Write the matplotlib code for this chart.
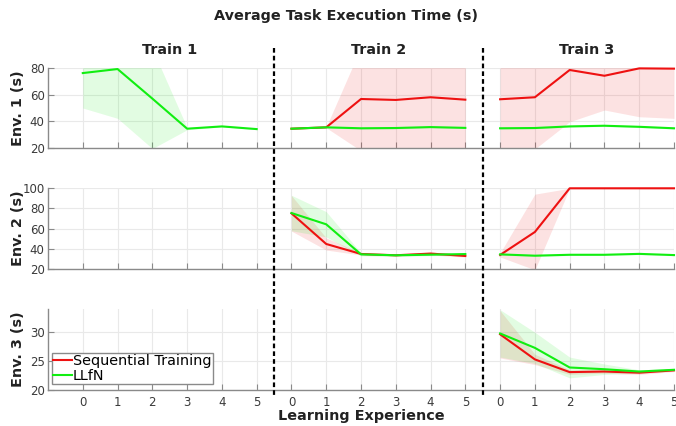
import numpy as np
import matplotlib
matplotlib.use("Agg")
import matplotlib.pyplot as plt
from matplotlib.lines import Line2D
from matplotlib.transforms import blended_transform_factory

# ---------------- data ----------------
experiences = [0, 1, 2, 3, 4, 5]
phases = ["Train 1", "Train 2", "Train 3"]
envs = ["Env. 1 (s)", "Env. 2 (s)", "Env. 3 (s)"]
methods = ["Sequential Training", "LLfN"]

# mean / std per (environment, training phase); None = not evaluated
# Env. 1
env1_seq_mean = [None,
                 [34.6, 35.6, 56.7, 56.0, 58.0, 56.2],
                 [56.5, 58.0, 78.3, 74.0, 79.5, 79.3]]
env1_seq_std = [None,
                [0.3, 0.3, 38.5, 40.0, 39.0, 40.0],
                [40.0, 38.5, 38.5, 25.5, 36.0, 37.0]]
env1_llfn_mean = [[76.0, 79.0, 57.0, 34.6, 36.3, 34.3],
                  [34.6, 35.6, 34.9, 35.1, 35.8, 35.2],
                  [34.9, 35.1, 36.3, 36.8, 36.0, 34.9]]
env1_llfn_std = [[26.0, 36.7, 37.2, 0.8, 0.4, 0.4],
                 [0.5, 0.5, 0.6, 0.6, 0.6, 0.5],
                 [0.5, 0.5, 0.6, 0.6, 0.6, 0.5]]

# Env. 2
env2_seq_mean = [None,
                 [75.2, 44.8, 34.9, 33.6, 35.3, 32.9],
                 [33.9, 56.7, 100.0, 100.0, 100.0, 100.0]]
env2_seq_std = [None,
                [17.6, 6.0, 1.0, 1.0, 1.5, 1.0],
                [2.0, 37.5, 0.0, 0.0, 0.0, 0.0]]
env2_llfn_mean = [None,
                  [75.5, 64.3, 34.5, 33.6, 34.2, 34.8],
                  [34.5, 33.2, 34.1, 34.1, 35.0, 33.8]]
env2_llfn_std = [None,
                 [17.6, 12.5, 1.5, 1.0, 1.0, 1.0],
                 [0.8, 0.7, 0.7, 0.7, 0.7, 0.7]]

# Env. 3
env3_seq_mean = [None, None,
                 [29.65, 25.3, 23.1, 23.2, 23.0, 23.4]]
env3_seq_std = [None, None,
                [4.1, 0.9, 0.4, 0.3, 0.3, 0.2]]
env3_llfn_mean = [None, None,
                  [29.8, 27.3, 23.9, 23.6, 23.2, 23.5]]
env3_llfn_std = [None, None,
                 [4.1, 2.7, 1.8, 0.9, 0.3, 0.2]]

y_limits = [(20, 80), (20, 100), (20, 34)]
y_ticks = [[20, 40, 60, 80], [20, 40, 60, 80, 100], [20, 25, 30]]

rows = [
    (env1_seq_mean, env1_seq_std, env1_llfn_mean, env1_llfn_std),
    (env2_seq_mean, env2_seq_std, env2_llfn_mean, env2_llfn_std),
    (env3_seq_mean, env3_seq_std, env3_llfn_mean, env3_llfn_std),
]

# ---------------- style ----------------
RED = "#ee1111"
GREEN = "#11ee11"
SPINE = "#8a8a8a"
GRID = "#e9e9e9"
TEXT = "#3a3a3a"
DARK = "#222222"
BOLD_SIZE = 10.4

W, H = 676, 426
fig = plt.figure(figsize=(W / 100, H / 100), dpi=100)

left_px, right_px = 48, 674
row_px = [(67.7, 148.3), (188.3, 269.0), (309.2, 390.0)]
span = len(experiences)  # x offset between phases

axes = []
for r, (top, bot) in enumerate(row_px):
    ax = fig.add_axes([left_px / W, 1 - bot / H, (right_px - left_px) / W, (bot - top) / H])
    axes.append(ax)
    seq_m, seq_s, llfn_m, llfn_s = rows[r]

    for p in range(len(phases)):
        x = np.array(experiences) + span * p
        for means, stds, col in ((seq_m, seq_s, RED), (llfn_m, llfn_s, GREEN)):
            if means[p] is None:
                continue
            m = np.array(means[p])
            s = np.array(stds[p])
            ax.fill_between(x, m - s, m + s, color=col, alpha=0.12, lw=0, zorder=1)
        for means, col in ((seq_m, RED), (llfn_m, GREEN)):
            if means[p] is None:
                continue
            ax.plot(x, means[p], color=col, lw=1.5, zorder=3, clip_on=False)

    ax.set_xlim(-1, span * len(phases) - 1)
    ax.set_ylim(*y_limits[r])
    ticks = [e + span * p for p in range(len(phases)) for e in experiences]
    ax.set_xticks(ticks)
    ax.set_yticks(y_ticks[r])
    if r == 2:
        ax.set_xticklabels([str(e) for p in range(len(phases)) for e in experiences])
    else:
        ax.set_xticklabels([])
    ax.grid(True, color=GRID, lw=0.8, zorder=0)
    ax.set_axisbelow(True)
    for side in ("top", "right"):
        ax.spines[side].set_visible(False)
    for side in ("left", "bottom"):
        ax.spines[side].set_color(SPINE)
        ax.spines[side].set_linewidth(1.0)
    ax.tick_params(direction="in", length=4, width=0.8, color=SPINE,
                   labelcolor=TEXT, labelsize=8.5)
    ax.tick_params(axis="y", pad=2.5)
    ax.tick_params(axis="x", pad=4)
    ax.set_ylabel(envs[r], fontsize=BOLD_SIZE, fontweight="bold", color=DARK)
    ax.yaxis.set_label_coords(-0.037, 0.5)

# phase titles above the first row
top_ax = axes[0]
trans = blended_transform_factory(top_ax.transData, top_ax.transAxes)
for p, name in enumerate(phases):
    top_ax.text(span * p + 2.5, 1.22, name, transform=trans, ha="center", va="center",
                fontsize=BOLD_SIZE, fontweight="bold", color=DARK)

# x label
axes[2].set_xlabel("Learning Experience", fontsize=BOLD_SIZE, fontweight="bold", color=DARK)
axes[2].xaxis.set_label_coords(0.5, -0.235)

# legend
handles = [Line2D([], [], color=RED, lw=1.5), Line2D([], [], color=GREEN, lw=1.5)]
leg = axes[2].legend(handles, methods, loc="lower left", bbox_to_anchor=(0.006, 0.07),
                     fontsize=BOLD_SIZE, handlelength=1.25, handletextpad=0.1,
                     borderpad=0.12, labelspacing=0.02, borderaxespad=0,
                     fancybox=False, framealpha=1, edgecolor="#8a8a8a")
leg.get_frame().set_linewidth(1.0)

# dashed separators between training phases
inv = fig.transFigure.inverted()
for p in range(1, len(phases)):
    xs = span * p - 0.5
    xf = inv.transform(axes[0].transData.transform((xs, 0)))[0]
    fig.add_artist(Line2D([xf, xf], [1 - 48 / H, 1 - 397 / H], transform=fig.transFigure,
                          color="black", lw=1.6, ls=(0, (2.1, 1.4))))

# overall title
fig.text(346 / W, 1 - 16 / H, "Average Task Execution Time (s)", ha="center", va="center",
         fontsize=BOLD_SIZE, fontweight="bold", color=DARK)

fig.savefig("out.png", dpi=100)
